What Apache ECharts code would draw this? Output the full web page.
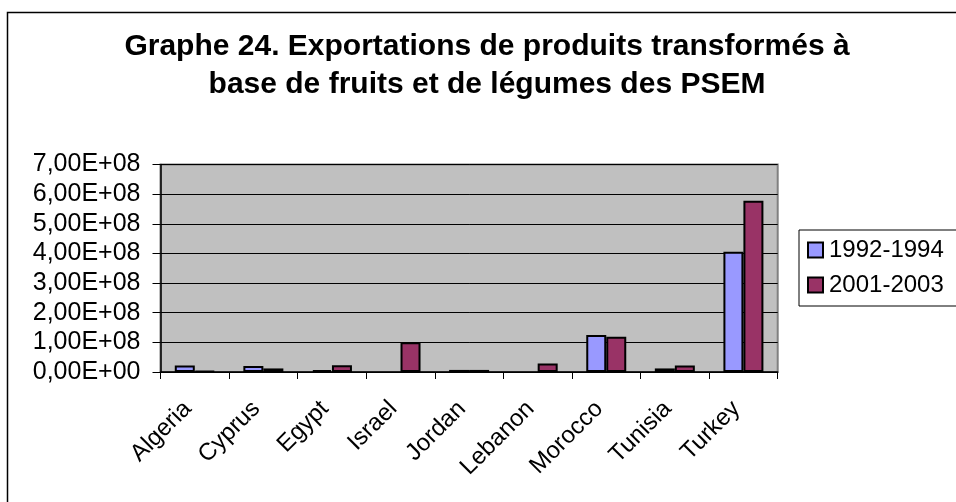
<!DOCTYPE html>
<html>
<head>
<meta charset="utf-8">
<script src="https://cdn.jsdelivr.net/npm/echarts@6/dist/echarts.min.js"></script>
<style>
  html, body { margin: 0; padding: 0; background: #fff; }
  #chart { width: 956px; height: 502px; }
</style>
</head>
<body>
<div id="chart"></div>
<script>
var countries = ['Algeria', 'Cyprus', 'Egypt', 'Israel', 'Jordan', 'Lebanon', 'Morocco', 'Tunisia', 'Turkey'];
var exp9294 = [2.2e7, 2.0e7, 6e6, null, 7e6, null, 1.25e8, 1.2e7, 4.06e8];
var exp0103 = [3e6, 1.2e7, 2.3e7, 1.0e8, 7e6, 2.9e7, 1.19e8, 2.2e7, 5.78e8];
var yTickLabels = ['0,00E+00', '1,00E+08', '2,00E+08', '3,00E+08', '4,00E+08', '5,00E+08', '6,00E+08', '7,00E+08'];

var font = "'Liberation Sans', Arial, sans-serif";
var chart = echarts.init(document.getElementById('chart'));

chart.setOption({
    animation: false,
    backgroundColor: '#fff',
    graphic: [{
        type: 'rect',
        shape: { x: 7.5, y: 12.5, width: 1200, height: 800 },
        style: { fill: null, stroke: '#000', lineWidth: 1.5 },
        z: -1
    }],
    title: {
        text: 'Graphe 24. Exportations de produits transformés à\nbase de fruits et de légumes des PSEM',
        left: 487, top: 28, padding: 0,
        textAlign: 'center',
        textStyle: { fontFamily: font, fontSize: 30, fontWeight: 'bold', color: '#000', lineHeight: 38 }
    },
    legend: {
        orient: 'vertical',
        left: 799, top: 230,
        padding: [8, 16, 9, 8],
        itemGap: 11,
        itemWidth: 15, itemHeight: 15,
        borderColor: '#000', borderWidth: 1,
        icon: 'rect',
        itemStyle: { borderColor: '#000', borderWidth: 2 },
        textStyle: { fontFamily: font, fontSize: 24, color: '#000', padding: [0, 0, 0, 1] },
        data: ['1992-1994', '2001-2003']
    },
    grid: {
        left: 160.5, right: 178.3, top: 164.5, bottom: 130,
        show: true, backgroundColor: '#C0C0C0', borderColor: '#808080', borderWidth: 2
    },
    xAxis: {
        type: 'category',
        data: countries,
        axisLine: { lineStyle: { color: '#000', width: 1.5 } },
        axisTick: { show: true, length: 7, lineStyle: { color: '#000' } },
        axisLabel: {
            rotate: 45, margin: 26, interval: 0, padding: [0, 10, 0, 0],
            fontFamily: font, fontSize: 24, color: '#000'
        }
    },
    yAxis: {
        type: 'value',
        min: 0, max: 7e8, interval: 1e8,
        axisLine: { show: true, lineStyle: { color: '#000', width: 1.5 } },
        axisTick: { show: true, length: 8, lineStyle: { color: '#000' } },
        splitLine: { lineStyle: { color: '#000', width: 1 } },
        axisLabel: {
            margin: 20, fontFamily: font, fontSize: 25, color: '#000',
            formatter: function (v) { return yTickLabels[Math.round(v / 1e8)]; }
        }
    },
    series: [{
        name: '1992-1994',
        type: 'bar',
        data: exp9294,
        barWidth: 20,
        barGap: '0%',
        itemStyle: { color: '#9999FF', borderColor: '#000', borderWidth: 2 }
    }, {
        name: '2001-2003',
        type: 'bar',
        data: exp0103,
        barWidth: 20,
        itemStyle: { color: '#993366', borderColor: '#000', borderWidth: 2 }
    }]
});
</script>
</body>
</html>
